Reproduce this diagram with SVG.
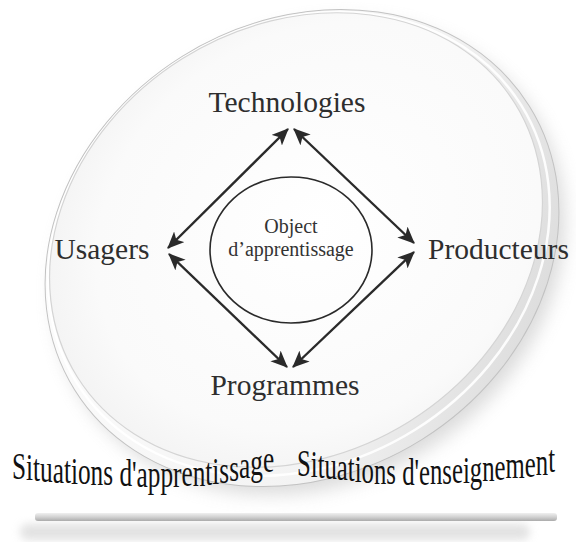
<svg xmlns="http://www.w3.org/2000/svg" width="576" height="542" viewBox="0 0 576 542">
  <style>
    .lbl { font-family: "Liberation Serif", "Times New Roman", serif; font-size: 29.5px; fill: #2e2e2e; }
    .small { font-family: "Liberation Serif", "Times New Roman", serif; font-size: 20px; fill: #333; }
    .warp { font-family: "Liberation Serif", "Times New Roman", serif; font-size: 38px; fill: #111; }
    .conn { stroke: #2a2a2a; stroke-width: 2.4; fill: none; marker-start: url(#ah); marker-end: url(#ah); }
  </style>
  <defs>
    <marker id="ah" viewBox="0 0 16 14" refX="15" refY="7" markerWidth="17" markerHeight="15" markerUnits="userSpaceOnUse" orient="auto-start-reverse">
      <path d="M0,0 L16,7 L0,14 L4,7 Z" fill="#2a2a2a"/>
    </marker>
    <linearGradient id="rimG" x1="0" y1="0" x2="1" y2="1">
      <stop offset="0" stop-color="#ffffff"/>
      <stop offset="0.6" stop-color="#f3f3f3"/>
      <stop offset="0.85" stop-color="#dedede"/>
      <stop offset="1" stop-color="#cdcdcd"/>
    </linearGradient>
    <radialGradient id="faceG" cx="0.55" cy="0.5" r="0.6">
      <stop offset="0" stop-color="#ffffff"/>
      <stop offset="0.75" stop-color="#fafafa"/>
      <stop offset="1" stop-color="#f1f1f1"/>
    </radialGradient>
    <linearGradient id="barG" x1="0" y1="0" x2="0" y2="1">
      <stop offset="0" stop-color="#f0f0f0"/>
      <stop offset="0.5" stop-color="#d2d2d2"/>
      <stop offset="1" stop-color="#ababab"/>
    </linearGradient>
    <filter id="blur8" x="-20%" y="-20%" width="140%" height="140%">
      <feGaussianBlur stdDeviation="9"/>
    </filter>
    <filter id="blur4" x="-20%" y="-50%" width="140%" height="200%">
      <feGaussianBlur stdDeviation="4"/>
    </filter>
  </defs>

  <rect width="576" height="542" fill="#ffffff"/>

  <!-- plate -->
  <g id="plate">
    <ellipse cx="310" cy="258" rx="266" ry="224" transform="rotate(-32 310 258)" fill="#b0b0b0" opacity="0.45" filter="url(#blur8)"/>
    <ellipse cx="302" cy="248" rx="268" ry="226" transform="rotate(-32 302 248)" fill="url(#rimG)" stroke="#c2c2c2" stroke-width="1"/>
    <ellipse cx="299" cy="244" rx="262" ry="219" transform="rotate(-32 299 244)" fill="none" stroke="#ffffff" stroke-width="2.5" opacity="0.9"/>
    <ellipse cx="296" cy="240" rx="258" ry="214" transform="rotate(-32 296 240)" fill="url(#faceG)" stroke="#d4d4d4" stroke-width="1.2"/>
  </g>

  <!-- bottom bar -->
  <g id="bar">
    <rect x="20" y="524" width="510" height="16" rx="8" fill="#d6d6d6" opacity="0.7" filter="url(#blur4)"/>
    <rect x="35" y="513" width="522" height="8" rx="3" fill="url(#barG)"/>
  </g>

  <!-- connectors -->
  <g id="connectors">
    <line class="conn" x1="168" y1="248" x2="288" y2="129"/>
    <line class="conn" x1="294" y1="129" x2="414" y2="243"/>
    <line class="conn" x1="169" y1="254" x2="287" y2="367"/>
    <line class="conn" x1="414" y1="252" x2="293" y2="367"/>
  </g>

  <g id="node-objet">
    <ellipse cx="291" cy="250" rx="81" ry="73" fill="none" stroke="#2a2a2a" stroke-width="1.6"/>
    <text class="small" x="291" y="233" text-anchor="middle">Object</text>
    <text class="small" x="291" y="256" text-anchor="middle">d’apprentissage</text>
  </g>
  <g id="node-technologies">
    <text class="lbl" x="287" y="112" text-anchor="middle">Technologies</text>
  </g>
  <g id="node-usagers">
    <text class="lbl" x="102" y="259" text-anchor="middle">Usagers</text>
  </g>
  <g id="node-producteurs">
    <text class="lbl" x="428" y="259">Producteurs</text>
  </g>
  <g id="node-programmes">
    <text class="lbl" x="285" y="395" text-anchor="middle">Programmes</text>
  </g>

  <g id="situations-apprentissage" transform="translate(12,0) scale(0.665,1)">
    <text class="warp" x="0" y="479 480 481 482 483 483.5 484 484.5 485 485.5 486 486.5 487 487 487 487 487 486.5 486 485 484 483 481 478 475 472">Situations d'apprentissage</text>
  </g>
  <g id="situations-enseignement" transform="translate(297,0) scale(0.651,1)">
    <text class="warp" x="0" y="476 477 478 479 480 481 482 483 484 484.5 485 485 485 485 484.5 484 483.5 483 482 481 480 478.5 477 475 472">Situations d'enseignement</text>
  </g>
</svg>
